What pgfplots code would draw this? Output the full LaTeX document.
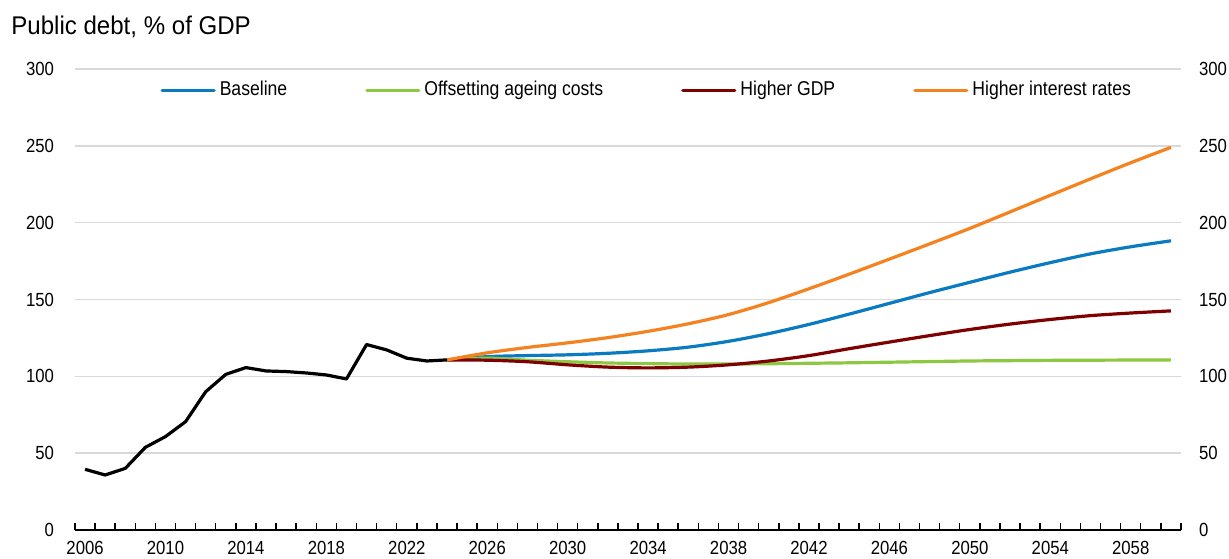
\documentclass[border=0pt]{standalone}
\usepackage{pgfplots}
\pgfplotsset{compat=1.18}
\usepackage{fontspec}
\setmainfont{Liberation Sans}[FakeStretch=0.88]
\newfontfamily\titlefont{Liberation Sans}[FakeStretch=0.94]

\definecolor{baseblue}{HTML}{0B7BC1}
\definecolor{ageggreen}{HTML}{8CC841}
\definecolor{gdpred}{HTML}{7F0000}
\definecolor{rateorange}{HTML}{F58220}
\definecolor{gridgray}{HTML}{D9D9D9}

\begin{document}
\begin{tikzpicture}
\useasboundingbox (-37.5pt,-14pt) rectangle (577pt,265pt);

% main axis: left labels, year ticks, grid, data
\begin{axis}[
    at={(0,0)}, anchor=south west,
    scale only axis, width=553pt, height=230.5pt,
    xmin=2005.5, xmax=2060.5, ymin=0, ymax=300,
    axis x line*=bottom, axis y line*=left,
    y axis line style={draw=none},
    x axis line style={line width=1pt, -},
    xtick={2006,2010,...,2058},
    minor xtick={2005.5,2006.5,...,2060.5},
    ytick={0,50,...,300},
    ymajorgrids,
    grid style={draw=gridgray, line width=0.75pt},
    major tick length=0pt,
    minor tick length=3.5pt,
    tick align=inside,
    tick style={black, line width=0.75pt},
    /pgf/number format/assume math mode=true,
    tick label style={font=\fontsize{9.5}{11}\selectfont},
    xticklabel style={/pgf/number format/1000 sep={}, yshift=-2pt},
    yticklabel style={xshift=-7pt},
    legend columns=4,
    legend style={draw=none, fill=none, at={(0.077,0.954)}, anchor=west,
        font=\fontsize{10}{12}\selectfont, inner sep=0pt,
        /tikz/every even column/.append style={column sep=37pt}},
    legend image code/.code={\draw[#1, line cap=round] (0pt,0pt) -- (26pt,0pt);},
    every axis plot/.append style={line width=1.6pt, line join=round},
]

\addplot[baseblue, smooth] coordinates {
    (2024,110.7) (2026,112.8) (2028,113.5) (2030,114.0) (2032,115.0)
    (2034,116.6) (2036,119.0) (2038,122.8) (2040,127.8) (2042,133.8)
    (2044,140.5) (2046,147.5) (2048,154.5) (2050,161.2) (2052,167.8)
    (2054,174.0) (2056,179.7) (2058,184.3) (2060,188.2)
};
\addlegendentry{Baseline}

\addplot[ageggreen, smooth] coordinates {
    (2024,110.7) (2026,111.8) (2028,110.5) (2030,109.5) (2032,108.7)
    (2034,108.3) (2036,108.0) (2038,108.0) (2040,108.2) (2042,108.5)
    (2044,108.8) (2046,109.2) (2048,109.6) (2050,110.0) (2052,110.2)
    (2054,110.4) (2056,110.5) (2058,110.6) (2060,110.7)
};
\addlegendentry{Offsetting ageing costs}

\addplot[gdpred, smooth] coordinates {
    (2024,110.7) (2026,110.5) (2028,109.5) (2030,107.5) (2032,106.0)
    (2034,105.5) (2036,106.0) (2038,107.5) (2040,110.0) (2042,113.5)
    (2044,118.0) (2046,122.3) (2048,126.5) (2050,130.5) (2052,134.0)
    (2054,137.0) (2056,139.5) (2058,141.2) (2060,142.6)
};
\addlegendentry{Higher GDP}

\addplot[rateorange, smooth] coordinates {
    (2024,110.7) (2026,115.3) (2028,118.8) (2030,121.8) (2032,125.2)
    (2034,129.3) (2036,134.2) (2038,140.2) (2040,148.0) (2042,157.0)
    (2044,166.5) (2046,176.3) (2048,186.2) (2050,196.3) (2052,207.0)
    (2054,217.8) (2056,228.5) (2058,239.0) (2060,249.0)
};
\addlegendentry{Higher interest rates}

\addplot[black, forget plot] coordinates {
    (2006,39.5) (2007,35.8) (2008,40.1) (2009,53.8) (2010,60.8)
    (2011,70.5) (2012,90.0) (2013,101.3) (2014,105.7) (2015,103.5)
    (2016,103.1) (2017,102.2) (2018,100.9) (2019,98.3) (2020,120.7)
    (2021,117.2) (2022,111.8) (2023,110.0) (2024,110.7)
};
\end{axis}

% right-hand labels
\begin{axis}[
    at={(0,0)}, anchor=south west,
    scale only axis, width=553pt, height=230.5pt,
    xmin=2005.5, xmax=2060.5, ymin=0, ymax=300,
    axis x line=none, axis y line*=right,
    y axis line style={draw=none},
    ytick={0,50,...,300},
    major tick length=0pt,
    /pgf/number format/assume math mode=true,
    tick label style={font=\fontsize{9.5}{11}\selectfont},
    yticklabel style={xshift=5.5pt},
]
\end{axis}

\node[anchor=base west, inner sep=0pt, font=\titlefont\fontsize{12.8}{15}\selectfont]
    at (-32pt,247.5pt) {Public debt, \% of GDP};
\end{tikzpicture}
\end{document}
